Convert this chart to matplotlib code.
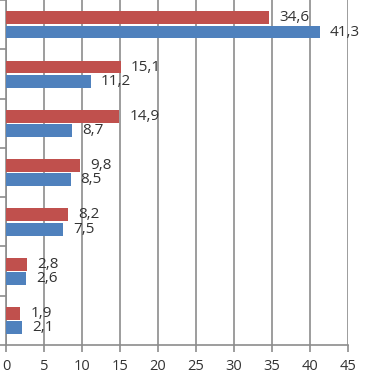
import matplotlib
matplotlib.use("Agg")
import matplotlib.pyplot as plt
import numpy as np

red_vals = [34.6, 15.1, 14.9, 9.8, 8.2, 2.8, 1.9]
blue_vals = [41.3, 11.2, 8.7, 8.5, 7.5, 2.6, 2.1]
x_ticks = [0, 5, 10, 15, 20, 25, 30, 35, 40, 45]

plt.rcParams['font.family'] = ['Open Sans', 'DejaVu Sans']

fig = plt.figure(figsize=(3.65, 3.74), dpi=100)
ax = fig.add_axes([6/365, 29/374, 342/365, 345/374])

n = len(red_vals)
pos = np.arange(n)
h = 0.26
red_c = '#C0504D'
blue_c = '#4F81BD'
ax.barh(pos - h/2 - 0.01, red_vals, height=h, color=red_c, zorder=3)
ax.barh(pos + h/2 + 0.02, blue_vals, height=h, color=blue_c, zorder=3)

fmt = lambda v: f"{v:.1f}".replace('.', ',')
for i in range(n):
    ax.annotate(fmt(red_vals[i]), (red_vals[i], pos[i] - h/2 - 0.01), xytext=(10, 0),
                textcoords='offset pixels', va='center', ha='left', fontsize=11, color='#333333',
                annotation_clip=False)
    ax.annotate(fmt(blue_vals[i]), (blue_vals[i], pos[i] + h/2 + 0.02), xytext=(10, 0),
                textcoords='offset pixels', va='center', ha='left', fontsize=11, color='#333333',
                annotation_clip=False)

ax.set_ylim(n - 0.5, -0.5)
ax.set_xlim(0, 45)
ax.set_xticks(x_ticks)
ax.set_xticklabels([str(t) for t in x_ticks], fontsize=10.5, color='#333333')
ax.set_yticks(np.arange(-0.5, n, 1.0))
ax.set_yticklabels([])
ax.grid(axis='x', color='#8c8c8c', linewidth=1.2, zorder=0)
for s in ['top', 'right']:
    ax.spines[s].set_visible(False)
for s in ['left', 'bottom']:
    ax.spines[s].set_color('#8c8c8c')
    ax.spines[s].set_linewidth(1.2)
ax.tick_params(axis='x', colors='#8c8c8c', labelcolor='#333333', length=5, width=1.2, pad=5)
ax.tick_params(axis='y', colors='#8c8c8c', length=5, width=1.2)

fig.savefig('out.png', dpi=100)
